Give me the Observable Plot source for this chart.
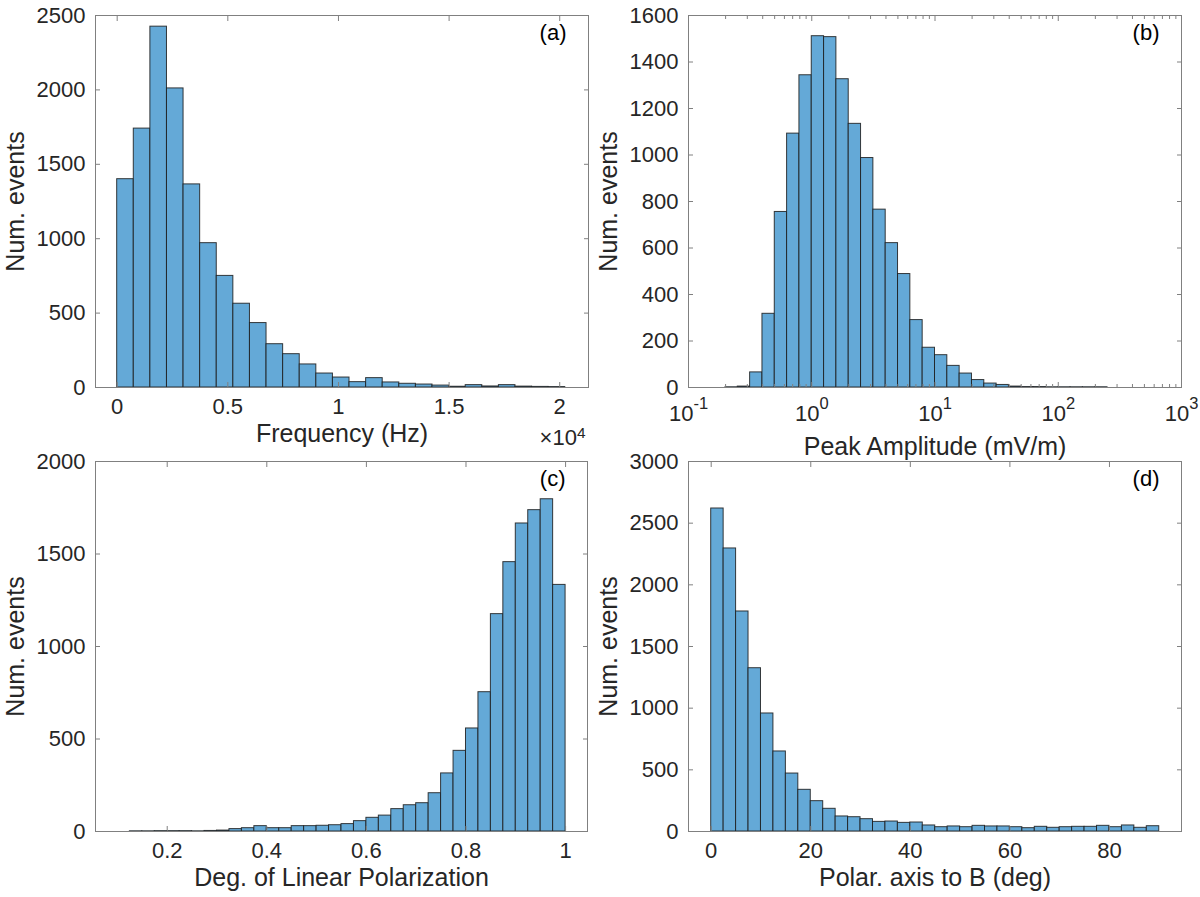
<!DOCTYPE html>
<html>
<head>
<meta charset="utf-8">
<script src="https://cdn.jsdelivr.net/npm/d3@7"></script>
<script src="https://cdn.jsdelivr.net/npm/@observablehq/plot@0.6"></script>
<style>
  body { margin: 0; background: white; }
  #fig { position: relative; width: 1200px; height: 897px; }
  #fig > div { position: absolute; }
</style>
</head>
<body>
<div id="fig">
  <div id="pa" style="left:0px;top:0px"></div>
  <div id="pb" style="left:600px;top:0px"></div>
  <div id="pc" style="left:0px;top:448px"></div>
  <div id="pd" style="left:600px;top:448px"></div>
</div>
<script>
// (a) frequency, bins of 750 Hz from 0
const freqBinStart = 0;
const freqBinWidth = 750;
const freqCounts = [1400, 1740, 2425, 2010, 1365, 970, 750, 563, 433, 291, 224, 155, 94, 67,
  36, 63, 34, 25, 20, 13, 5, 16, 7, 16, 6, 4, 3];
const freqTicks = [0, 5000, 10000, 15000, 20000];
const freqYTicks = [0, 500, 1000, 1500, 2000, 2500];

// (b) peak amplitude, bins of 0.1 decade starting at 10^-0.7
const ampLogStart = -0.7;
const ampLogWidth = 0.1;
const ampCounts = [1, 4, 65, 317, 755, 1092, 1343, 1511, 1507, 1326, 1134, 987, 765, 621, 488,
  290, 171, 139, 93, 60, 32, 17, 11, 4, 2, 2, 1, 1, 1, 1, 1];
const ampTicks = [0.1, 1, 10, 100, 1000];
const ampTickLabels = ["10^-1", "10^0", "10^1", "10^2", "10^3"];
const ampMinorTicks = [0.2, 0.3, 0.4, 0.5, 0.6, 0.7, 0.8, 0.9, 2, 3, 4, 5, 6, 7, 8, 9,
  20, 30, 40, 50, 60, 70, 80, 90, 200, 300, 400, 500, 600, 700, 800, 900];
const ampYTicks = [0, 200, 400, 600, 800, 1000, 1200, 1400, 1600];

// (c) degree of linear polarization, bins of 0.025 from 0.125
const polBinStart = 0.125;
const polBinWidth = 0.025;
const polCounts = [1, 1, 2, 2, 2, 1, 3, 5, 13, 18, 29, 18, 18, 29, 29, 31, 34, 40, 56, 74, 86,
  121, 142, 153, 207, 314, 436, 557, 753, 1175, 1456, 1665, 1737, 1796, 1333];
const polTicks = [0.2, 0.4, 0.6, 0.8, 1];
const polYTicks = [0, 500, 1000, 1500, 2000];

// (d) polar axis to B, bins of 2.5 deg from 0
const angBinStart = 0;
const angBinWidth = 2.5;
const angCounts = [2619, 2295, 1784, 1324, 957, 649, 470, 338, 246, 184, 122, 116, 100, 78, 81,
  70, 73, 49, 35, 41, 35, 46, 41, 41, 35, 27, 38, 30, 35, 38, 38, 46, 35, 49, 30, 43];
const angTicks = [0, 20, 40, 60, 80];
const angYTicks = [0, 500, 1000, 1500, 2000, 2500, 3000];

const yLabel = "Num. events";
const font = "'Liberation Sans', Arial, Helvetica, sans-serif";
const barFill = "#64a9d7";
const boxColor = "#808080";
const textColor = "#262626";

function linearBins(start, width, counts) {
  return counts.map((c, i) => ({x1: start + i * width, x2: start + (i + 1) * width, count: c}));
}
function logBins(start, width, counts) {
  return counts.map((c, i) => ({
    x1: Math.pow(10, +(start + i * width).toFixed(2)),
    x2: Math.pow(10, +(start + (i + 1) * width).toFixed(2)),
    count: c
  }));
}

// turn "10^-1" into 10 with a raised exponent
function superscripts(svg, size, raise) {
  svg.querySelectorAll("text").forEach(t => {
    const s = t.textContent;
    const i = s.indexOf("^");
    if (i < 0) return;
    t.textContent = s.slice(0, i);
    const sup = document.createElementNS("http://www.w3.org/2000/svg", "tspan");
    sup.setAttribute("dy", raise);
    sup.setAttribute("font-size", size);
    sup.textContent = s.slice(i + 1);
    t.appendChild(sup);
  });
}

function panel(o) {
  const marks = [
    Plot.rectY(o.bins, {x1: "x1", x2: "x2", y: "count", fill: barFill,
      stroke: "#1b1b1b", strokeOpacity: 0.85, strokeWidth: 1}),
    Plot.frame({stroke: boxColor}),
    Plot.axisX({anchor: "bottom", ticks: o.xTicks, tickFormat: o.xFormat, tickSize: -5,
      tickPadding: o.xTickPadding ?? 16, stroke: boxColor, fill: textColor, label: null}),
    Plot.axisX({anchor: "top", ticks: o.xTicks, tickFormat: () => "", tickSize: -5,
      stroke: boxColor, label: null}),
    Plot.axisY({anchor: "left", ticks: o.yTicks, tickFormat: d => String(d), tickSize: -5,
      tickPadding: 15, stroke: boxColor, fill: textColor, label: null}),
    Plot.axisY({anchor: "right", ticks: o.yTicks, tickFormat: () => "", tickSize: -5,
      stroke: boxColor, label: null}),
    Plot.text([yLabel], {frameAnchor: "left", dx: -72, rotate: -90, lineAnchor: "bottom",
      textAnchor: "middle", fontSize: 25, fill: textColor}),
    Plot.text([o.xLabel], {frameAnchor: "bottom", dy: o.labelDy, lineAnchor: "bottom",
      textAnchor: "middle", fontSize: 25, fill: textColor}),
    Plot.text([o.tag], {frameAnchor: "top-right", dx: -22, dy: 24, lineAnchor: "bottom",
      textAnchor: "end", fontSize: 22, fill: "#000"})
  ];
  if (o.minorTicks) {
    marks.push(
      Plot.axisX({anchor: "bottom", ticks: o.minorTicks, tickFormat: () => "", tickSize: -3,
        stroke: boxColor, label: null}),
      Plot.axisX({anchor: "top", ticks: o.minorTicks, tickFormat: () => "", tickSize: -3,
        stroke: boxColor, label: null})
    );
  }
  if (o.extra) marks.push(...o.extra);
  const chart = Plot.plot({
    width: 600,
    height: o.height,
    marginLeft: o.marginLeft,
    marginRight: o.marginRight,
    marginTop: o.marginTop,
    marginBottom: o.marginBottom,
    style: {fontFamily: font, fontSize: "22px", color: textColor, background: "transparent", overflow: "visible"},
    x: {type: o.xType || "linear", domain: o.xDomain},
    y: {domain: o.yDomain},
    marks
  });
  if (o.sup) superscripts(chart, o.sup[0], o.sup[1]);
  document.getElementById(o.id).append(chart);
}

panel({
  id: "pa", height: 448, marginLeft: 95, marginRight: 12, marginTop: 15, marginBottom: 61,
  bins: linearBins(freqBinStart, freqBinWidth, freqCounts),
  xDomain: [-980, 21300], xTicks: freqTicks, xFormat: d => String(d / 1e4),
  yDomain: [0, 2500], yTicks: freqYTicks,
  xLabel: "Frequency (Hz)", labelDy: 54, tag: "(a)",
  sup: ["70%", "-0.45em"],
  extra: [Plot.text(["×10^4"], {frameAnchor: "bottom-right", dx: -3, dy: 57, lineAnchor: "bottom",
    textAnchor: "end", fontSize: 22, fill: textColor})]
});

panel({
  id: "pb", height: 448, marginLeft: 88, marginRight: 19, marginTop: 15, marginBottom: 61,
  bins: logBins(ampLogStart, ampLogWidth, ampCounts),
  xType: "log", xDomain: [0.1, 1000], xTicks: ampTicks, xTickPadding: 23,
  xFormat: d => ampTickLabels[ampTicks.indexOf(d)] ?? "",
  minorTicks: ampMinorTicks,
  yDomain: [0, 1600], yTicks: ampYTicks,
  xLabel: "Peak Amplitude (mV/m)", labelDy: 67, tag: "(b)",
  sup: ["75%", "-0.72em"]
});

panel({
  id: "pc", height: 449, marginLeft: 95, marginRight: 13, marginTop: 13, marginBottom: 66,
  bins: linearBins(polBinStart, polBinWidth, polCounts),
  xDomain: [0.056, 1.044], xTicks: polTicks, xFormat: d => String(d), xTickPadding: 15.5,
  yDomain: [0, 2000], yTicks: polYTicks,
  xLabel: "Deg. of Linear Polarization", labelDy: 54, tag: "(c)"
});

panel({
  id: "pd", height: 449, marginLeft: 88, marginRight: 19, marginTop: 13, marginBottom: 66,
  bins: linearBins(angBinStart, angBinWidth, angCounts),
  xDomain: [-4.56, 94.47], xTicks: angTicks, xFormat: d => String(d), xTickPadding: 15.5,
  yDomain: [0, 3000], yTicks: angYTicks,
  xLabel: "Polar. axis to B (deg)", labelDy: 54, tag: "(d)"
});
</script>
</body>
</html>
